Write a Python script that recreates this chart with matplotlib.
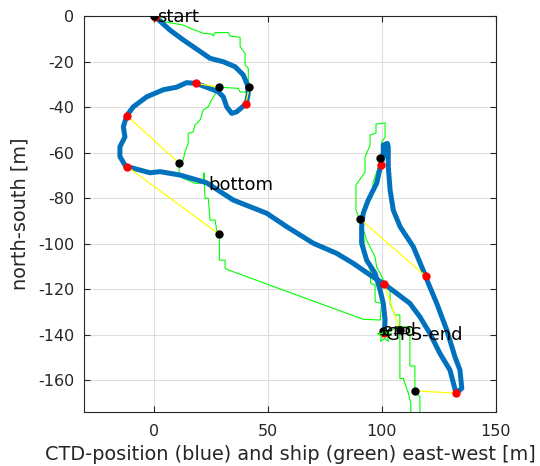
"""CTD track vs ship track, MATLAB-style plan view."""

import matplotlib

matplotlib.use("Agg")
import matplotlib.pyplot as plt

# CTD position (blue), east-west / north-south in metres
ctd_x = [0.0, 6.9, 12.7, 17.1, 24.5, 30.3, 35.5, 39.1, 40.9, 41.3, 40.6, 40.2,
         36.2, 34.0, 31.8, 30.3, 28.1, 23.0, 18.2, 14.2, 9.8, 4.0, -3.3, -9.2,
         -12.1, -13.6, -12.9, -15.1, -15.1, -12.9, -11.9, -6.3, -1.9, 2.5, 11.3,
         23.0, 34.7, 49.4, 58.2, 69.9, 80.1, 87.4, 94.8, 100.6, 106.5, 112.3,
         116.7, 121.1, 125.5, 129.9, 132.6, 135.1, 134.3, 132.1, 128.5, 124.1,
         120.4, 119.2, 113.8, 108.0, 105.0, 103.6, 102.8, 102.8, 102.4, 100.6,
         100.6, 99.5, 97.7, 94.0, 91.8, 91.1, 91.1, 93.3, 97.0, 99.2, 100.6,
         101.4, 101.1]
ctd_y = [0.0, -6.2, -10.5, -13.5, -18.6, -20.1, -22.3, -25.9, -30.3, -34.0,
         -37.7, -38.7, -42.1, -42.8, -39.9, -35.5, -33.3, -31.3, -29.6, -29.3,
         -31.3, -32.4, -35.5, -39.9, -43.8, -48.7, -53.1, -57.5, -61.8, -65.5,
         -66.2, -67.7, -68.9, -68.4, -69.9, -73.3, -80.9, -86.7, -92.6, -99.9,
         -104.3, -108.7, -113.8, -117.5, -121.9, -126.3, -132.2, -139.5, -148.3,
         -155.6, -165.8, -163.6, -155.6, -149.8, -138.0, -126.3, -117.5, -114.3,
         -101.4, -92.6, -85.3, -76.5, -66.2, -57.5, -56.0, -56.7, -61.8, -65.5,
         -73.5, -80.9, -86.7, -92.6, -99.9, -107.3, -113.1, -120.4, -126.3,
         -133.6, -138.8]

# ship GPS track (green)
ship_x = [0.0, 2.5, 4.0, 8.3, 12.7, 15.7, 21.5, 25.2, 25.9, 26.7, 32.5, 33.3,
          37.7, 37.7, 39.9, 39.9, 41.3, 41.3, 41.7, 40.7, 37.7, 36.9, 28.6, 27.4,
          25.2, 23.7, 21.5, 20.1, 17.9, 17.1, 14.9, 14.9, 13.5, 12.7, 10.9, 10.9,
          12.7, 17.9, 25.4, 21.8, 21.8, 22.3, 23.7, 24.5, 26.7, 27.4, 28.6, 28.6,
          31.1, 31.1, 32.5, 91.8, 99.2, 99.9, 97.0, 97.0, 95.1, 94.8, 94.0, 92.6,
          91.8, 90.4, 88.6, 88.6, 92.6, 92.6, 94.8, 94.8, 97.4, 97.4, 101.4,
          101.4, 99.9, 99.9, 99.2, 99.2, 97.7, 96.2, 95.5, 92.6, 91.1, 90.4,
          93.3, 95.5, 97.0, 97.7, 99.2, 100.6, 101.4, 103.6, 103.6, 105.8, 107.9,
          107.9, 107.9, 109.4, 111.6, 112.7, 112.7, 116.7, 116.7, 114.5, 114.5,
          112.3, 112.3, 106.6, 101.0]
ship_y = [0.0, -0.6, -2.5, -3.2, -4.0, -5.4, -7.6, -7.9, -8.8, -7.3, -7.3, -8.8,
          -9.4, -13.5, -16.4, -21.5, -23.0, -27.4, -31.3, -33.4, -33.4, -31.8,
          -31.3, -33.3, -36.9, -39.9, -41.3, -45.7, -47.9, -50.9, -51.6, -56.0,
          -59.6, -63.3, -64.7, -69.1, -71.3, -73.5, -73.5, -73.5, -68.9, -80.1,
          -80.1, -89.7, -89.7, -94.1, -96.0, -107.3, -107.3, -110.9, -111.6,
          -133.3, -133.6, -126.3, -125.6, -118.2, -117.5, -111.6, -107.3, -102.9,
          -95.5, -89.7, -85.3, -74.3, -68.6, -62.0, -56.7, -52.3, -51.4, -47.5,
          -47.0, -53.2, -55.4, -60.2, -62.5, -64.2, -68.6, -73.0, -80.0, -83.1,
          -88.4, -89.2, -98.5, -102.9, -105.9, -110.3, -113.0, -116.0, -117.5,
          -120.4, -126.3, -131.4, -131.4, -138.0, -159.3, -159.3, -165.8, -170.1,
          -180.0, -180.0, -167.3, -165.3, -153.8, -153.8, -136.6, -136.6, -140.2]

# matched ship (black) and CTD (red) positions, joined by yellow lines
ship_pts_x = [0.0, 41.7, 28.6, 10.9, 28.6, 99.2, 90.4, 107.9, 114.5, 100.6]
ship_pts_y = [0.0, -31.3, -31.3, -64.7, -96.0, -62.5, -89.2, -138.0, -164.7, -138.5]
ctd_pts_x = [0.1, 40.2, 18.2, -12.1, -11.9, 99.5, 119.2, 101.0, 132.6, 101.0]
ctd_pts_y = [-0.4, -38.7, -29.6, -43.8, -66.2, -65.5, -114.3, -117.8, -165.8, -139.5]

gps_end = (101.0, -140.2)

labels = ["start", "bottom", "end", "GPS-end"]
label_x = [1.3, 23.6, 100.2, 102.0]
label_y = [-0.4, -74.4, -138.6, -140.2]

TXT = "#262626"

fig = plt.figure(figsize=(5.4, 4.66), dpi=100)
ax = fig.add_axes([84.3 / 540, 1 - 411.7 / 466, 411.4 / 540, 395.7 / 466])

ax.plot(ship_x, ship_y, color="#00ff00", linewidth=0.8, zorder=2)
ax.plot(ctd_x, ctd_y, color="#0072bd", linewidth=3.6, solid_capstyle="round",
        solid_joinstyle="round", zorder=3)
for sx, sy, cx, cy in zip(ship_pts_x, ship_pts_y, ctd_pts_x, ctd_pts_y):
    ax.plot([sx, cx], [sy, cy], color="#ffff00", linewidth=0.9, zorder=4)
ax.plot(ctd_pts_x, ctd_pts_y, "o", color="#ff0000", markersize=6,
        markeredgewidth=0, zorder=5)
ax.plot(ship_pts_x, ship_pts_y, "o", color="black", markersize=6,
        markeredgewidth=0, zorder=6)
ax.plot(*gps_end, marker="*", color="#00ff00", markersize=10,
        markerfacecolor="none", markeredgewidth=0.8, zorder=6)

for t, x, y in zip(labels, label_x, label_y):
    ax.text(x, y, t, fontsize=13, color="black", ha="left", va="center", zorder=7)

ax.set_xlim(-30.75, 150)
ax.set_ylim(-173.9, 0)
ax.set_xticks([0, 50, 100, 150])
ax.set_yticks(range(-160, 1, 20))
ax.set_yticklabels([str(v) for v in range(-160, 1, 20)])
ax.grid(True, color="#dedede", linewidth=0.8)
ax.set_axisbelow(True)
ax.tick_params(direction="in", length=4, width=0.8, colors=TXT, labelsize=11.5,
               top=True, right=True, labeltop=False, labelright=False)
ax.tick_params(axis="x", pad=9)
ax.tick_params(axis="y", pad=7)
for s in ax.spines.values():
    s.set_color(TXT)
    s.set_linewidth(0.8)

ax.set_xlabel("CTD-position (blue) and ship (green) east-west [m]", fontsize=13.9,
              color=TXT, labelpad=4)
ax.set_ylabel("north-south [m]", fontsize=13.9, color=TXT, labelpad=6)

fig.savefig("out.png", dpi=100)
